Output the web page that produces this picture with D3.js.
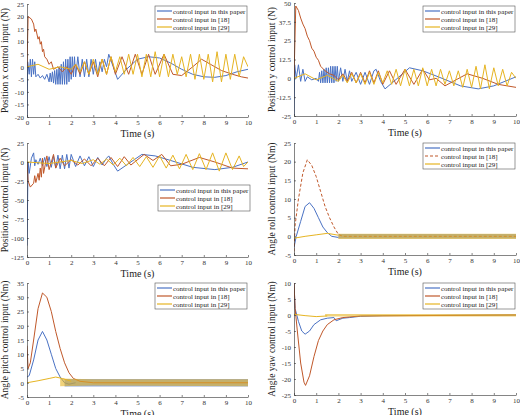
<!DOCTYPE html>
<html><head><meta charset="utf-8">
<script src="https://cdn.jsdelivr.net/npm/d3@7"></script>
<style>body{margin:0;background:#fff}</style>
</head><body><svg id="c" width="520" height="415" font-family="'Liberation Serif','DejaVu Serif',serif"></svg>
<script>
const FONT="'Liberation Serif','DejaVu Serif',serif";
const xTicks=[0,1,2,3,4,5,6,7,8,9,10];
const seriesNames=["control input in this paper","control input in [18]","control input in [29]"];
const colors=["#4a72c4","#c0582a","#e6b422"];
const yLabels=["Position x control input (N)","Position y control input (N)","Position z control input (N)","Angle roll control input (Nm)","Angle pitch control input (Nm)","Angle yaw control input (Nm)"];
const yTicks=[[-20,-15,-10,-5,0,5,10,15,20,25],[-25,-12.5,0,12.5,25,37.5,50],[-125,-100,-75,-50,-25,0,25],[-5,0,5,10,15,20,25],[-5,0,5,10,15,20,25,30,35],[-25,-20,-15,-10,-5,0,5,10]];

// panel 1: x
const p1Blue=[[0,-20],[0.03,2],[0.1,-3],[0.15,3],[0.2,-4],[0.25,3],[0.3,-3],[0.35,2],[0.4,-4],[0.5,-3],[0.6,-4.5],[0.7,-3.5],[0.8,-5],[0.9,-3],[1.0,-6],[1.05,-2.5],[1.1,-6],[1.15,-2],[1.2,-6.5],[1.25,-1.5],[1.3,-7],[1.35,-1],[1.4,-7],[1.45,0],[1.5,-7],[1.55,1],[1.6,-7],[1.65,2],[1.7,-7],[1.75,3],[1.8,-7],[1.85,3],[1.9,-6],[1.95,4],[2.0,-5],[2.05,4],[2.1,-4],[2.15,4],[2.2,-4],[2.3,4],[2.4,-4],[2.5,3],[2.6,-4],[2.7,3],[2.8,-4],[2.9,3],[3.0,-3],[3.1,3],[3.2,-3],[3.3,2],[3.4,-2],[3.5,3],[3.6,0],[3.7,5],[3.9,0],[4.1,-5],[4.5,-1],[5,3],[5.5,4],[6,3.5],[6.5,1.5],[7,-1],[7.5,-3],[8,-4],[8.5,-4.2],[9,-3.5],[9.5,-2],[10,-1]];
const p1Orange=[[0,0],[0.05,20],[0.2,19],[0.3,17],[0.35,14],[0.4,15],[0.5,11],[0.55,12],[0.6,9],[0.65,10],[0.7,6],[0.75,7],[0.8,4],[0.9,3],[1,1],[1.1,2],[1.2,-1],[1.4,0],[1.6,-2],[1.8,0],[2,-3],[2.2,1],[2.4,-3],[2.6,2],[2.8,-3],[3,2],[3.2,-4],[3.4,3],[3.6,-3],[3.8,4],[4,-3],[4.3,4],[4.6,-3],[4.9,5],[5.2,-3],[5.5,5],[5.8,-3],[6.2,5],[6.6,-3],[7,-3.5],[7.5,0],[7.9,3],[8.3,1],[8.8,-1.5],[9.3,-3],[9.7,-4],[10,-4.5]];
const p1Yellow=[[0,0],[0.5,1],[1,-1],[1.5,0],[2,-1],[2.2,1],[2.4,-2],[2.6,2],[2.8,-3],[3,3],[3.2,-3],[3.4,3],[3.6,-3],[3.8,4],[4,-2],[4.2,4],[4.4,-3],[4.6,5],[4.8,-3],[5,5],[5.2,-4],[5.4,5],[5.6,-4],[5.8,6],[6,-4],[6.2,5],[6.4,-4],[6.6,5],[6.8,-3],[7,4],[7.2,-4],[7.4,5],[7.6,-5],[7.8,5],[8,-5],[8.2,5],[8.4,-6],[8.6,6],[8.8,-6],[9,5],[9.2,-5],[9.4,5],[9.6,-4],[9.8,4],[10,0]];
// panel 2: y
const p2Blue=[[0,-25],[0.03,9],[0.1,0],[0.2,9],[0.3,-2],[0.4,6],[0.5,-2],[0.6,1],[0.8,-1],[1,0],[1.1,-2],[1.15,4],[1.2,-3],[1.25,5],[1.3,-3],[1.35,6],[1.4,-3],[1.45,7],[1.5,-3],[1.55,7],[1.6,-3],[1.65,8],[1.7,-3],[1.75,8],[1.8,-3],[1.85,8],[1.9,-2],[1.95,8],[2,-2],[2.1,7],[2.2,-2],[2.3,6],[2.4,-2],[2.5,5],[2.6,-2],[2.8,4],[3,-4],[3.2,4],[3.4,-4],[3.6,5],[3.7,6],[3.9,-2],[4.1,-7],[4.5,-2],[5.2,7],[5.8,5],[6.5,1],[7.5,-5],[8.3,-7],[9,-5],[10,1]];
const p2Orange=[[0,0],[0.08,48],[0.2,45],[0.3,40],[0.4,36],[0.5,33],[0.6,28],[0.7,25],[0.8,20],[0.9,18],[1,14],[1.1,12],[1.2,8],[1.4,5],[1.6,3],[1.8,2],[2,-1],[2.2,3],[2.4,-2],[2.6,4],[2.8,-3],[3,4],[3.2,-3],[3.4,5],[3.6,-3],[3.8,5],[4,-4],[4.3,5],[4.6,-4],[5,6],[5.4,-4],[5.8,6],[6.1,-1],[6.4,0],[6.8,-5],[7.3,-1],[7.8,3],[8.5,0],[9.2,-4],[10,-6]];
const p2Yellow=[[0,0],[0.5,3],[1,-1],[1.5,2],[2,-2],[2.2,2],[2.4,-3],[2.6,3],[2.8,-3],[3,3],[3.2,-4],[3.4,4],[3.6,-4],[3.8,4],[4,-3],[4.2,5],[4.4,-4],[4.6,6],[4.8,-5],[5,6],[5.2,-5],[5.4,6],[5.6,-5],[5.8,7],[6,-5],[6.2,6],[6.4,-5],[6.6,6],[6.8,-4],[7,5],[7.2,-5],[7.4,5],[7.6,-6],[7.8,6],[8,-6],[8.2,8],[8.4,-7],[8.6,9],[8.8,-7],[9,7],[9.2,-5],[9.4,6],[9.6,-5],[9.8,4],[10,0]];
// panel 3: z
const p3Blue=[[0,-110],[0.05,0],[0.1,-15],[0.2,5],[0.3,12],[0.35,-5],[0.4,3],[0.5,-3],[0.6,5],[0.7,-5],[0.8,6],[0.9,-6],[1,7],[1.1,-7],[1.2,8],[1.3,-8],[1.4,9],[1.5,-9],[1.6,9],[1.7,-9],[1.8,10],[1.9,-8],[2,10],[2.2,-6],[2.4,8],[2.6,-5],[2.8,7],[3,-6],[3.2,6],[3.4,-4],[3.6,5],[3.7,8],[3.9,-3],[4.1,-12],[4.5,-4],[5.2,10],[5.8,8],[6.5,2],[7.5,-7],[8.5,-10],[9.3,-7],[10,0]];
const p3Orange=[[0,0],[0.05,-25],[0.15,-33],[0.3,-28],[0.35,-18],[0.4,-27],[0.5,-15],[0.55,-24],[0.6,-8],[0.65,-20],[0.7,5],[0.75,-15],[0.9,8],[1,-10],[1.2,10],[1.3,-8],[1.5,5],[1.7,-5],[2,3],[2.3,-4],[2.6,4],[2.9,-5],[3.2,5],[3.5,-5],[3.8,6],[4.1,-6],[4.4,7],[4.7,-4],[5.3,10],[5.7,2],[6.1,10],[6.5,-5],[7,-3],[7.8,6],[8.5,0],[9.3,-8],[10,-9]];
const p3Yellow=[[0,0],[1,-2],[2,2],[2.5,-2],[3,3],[3.3,-3],[3.6,4],[3.9,-4],[4.2,5],[4.5,-5],[4.8,6],[5.1,-6],[5.4,7],[5.7,-7],[6,8],[6.3,-8],[6.6,9],[6.9,-9],[7.2,10],[7.5,-10],[7.8,11],[8.1,-10],[8.4,12],[8.7,-12],[9,12],[9.3,-10],[9.6,8],[9.8,-6],[10,0]];
// panel 4: roll
const p4Blue=[[0,-3],[0.1,0],[0.3,4],[0.5,8],[0.7,9],[0.9,7.5],[1.1,5],[1.3,2.5],[1.5,1],[1.7,0],[2,-0.3]];
const p4Orange=[[0,-4],[0.05,3],[0.2,10],[0.4,17],[0.6,20.5],[0.8,19],[1,16],[1.2,12],[1.4,8],[1.6,5],[1.8,2.5],[2,0.5],[2.2,0],[3,0],[10,0]];
const p4Yellow=[[0,-0.5],[0.5,0],[1,0.4],[1.5,0.8],[1.8,0.5],[2,0.3]];
// panel 5: pitch
const p5Blue=[[0,2],[0.1,2.5],[0.3,8],[0.5,15],[0.7,18],[0.9,15],[1.1,10],[1.3,5],[1.5,2],[1.7,0],[1.9,-0.5],[2.2,0]];
const p5Orange=[[0,13],[0.05,5],[0.15,7],[0.3,15],[0.5,26],[0.7,31.5],[0.9,30],[1.1,25],[1.3,18],[1.5,12],[1.7,7],[1.9,3.5],[2.1,1.5],[2.4,0.5],[3,0],[10,0]];
const p5Yellow=[[0,0],[0.5,0.7],[1,1.5],[1.3,2],[1.6,1.5],[2,0.5]];
// panel 6: yaw
const p6Blue=[[0,10],[0.05,2],[0.2,-2],[0.35,-5],[0.5,-6],[0.7,-5],[0.9,-3],[1.2,-1.5],[1.5,-1],[1.8,-0.8],[1.9,-1.8],[2.2,-1],[2.5,-0.8],[3,-0.4],[4,-0.2],[10,0]];
const p6Orange=[[0,10],[0.05,2],[0.15,-5],[0.3,-15],[0.45,-21],[0.52,-22],[0.7,-19],[0.9,-13],[1.1,-8],[1.3,-5],[1.5,-3],[1.8,-1.5],[2.2,-0.8],[3,-0.3],[10,0]];
const p6Yellow=[[0,0.2],[0.5,-0.2],[1,-0.5],[1.5,-0.3]];
// dense oscillation bands [t, low, high]
const p4BlueBand=[[2,-0.6,0.6],[10,-0.6,0.6]];
const p4YellowBand=[[2,-0.7,0.7],[10,-0.7,0.7]];
const p5BlueBand=[[1.7,-1.3,1.3],[10,-1.3,1.3]];
const p5YellowBand=[[1.5,-1.2,1.5],[3,-1,1.2],[10,-1.2,1.2]];
const p6YellowBand=[[1.4,-0.5,0.3],[10,-0.5,0.3]];

const panels=[
 {x:27,w:221,y:4,h:113,dom:[-20,25],lines:[p1Blue,p1Orange,p1Yellow],bands:[],leg:[155,6]},
 {x:294,w:222,y:3,h:113,dom:[-25,50],lines:[p2Blue,p2Orange,p2Yellow],bands:[],leg:[423,6]},
 {x:27,w:221,y:143,h:114,dom:[-125,25],lines:[p3Blue,p3Orange,p3Yellow],bands:[],leg:[158,185]},
 {x:294,w:222,y:143,h:112,dom:[-5,25],lines:[p4Blue,p4Orange,p4Yellow],bands:[[p4BlueBand,0],[p4YellowBand,2]],leg:[423,143],dash:true},
 {x:27,w:221,y:283,h:114,dom:[-5,35],lines:[p5Blue,p5Orange,p5Yellow],bands:[[p5BlueBand,0],[p5YellowBand,2]],leg:[155,283]},
 {x:294,w:222,y:283,h:112,dom:[-25,10],lines:[p6Blue,p6Orange,p6Yellow],bands:[[p6YellowBand,2]],leg:[423,283]}
];
const svg=d3.select("#c");
panels.forEach((p,i)=>{
 const g=svg.append("g");
 const x=d3.scaleLinear().domain([0,10]).range([p.x,p.x+p.w]);
 const y=d3.scaleLinear().domain(p.dom).range([p.y+p.h,p.y]);
 const clipId="cl"+i;
 svg.append("clipPath").attr("id",clipId).append("rect").attr("x",p.x).attr("y",p.y).attr("width",p.w).attr("height",p.h);
 const plot=g.append("g").attr("clip-path",`url(#${clipId})`);
 const line=d3.line().x(d=>x(d[0])).y(d=>y(d[1]));
 const area=d3.area().x(d=>x(d[0])).y0(d=>y(d[1])).y1(d=>y(d[2]));
 [0,1,2].forEach(k=>{
  p.bands.filter(b=>b[1]===k).forEach(b=>plot.append("path").attr("d",area(b[0])).attr("fill",colors[k]).attr("opacity",0.6));
  plot.append("path").attr("d",line(p.lines[k])).attr("fill","none").attr("stroke",colors[k]).attr("stroke-width",1)
   .attr("stroke-dasharray",(p.dash&&k===1)?"3,2":null);
 });
 const ax=g.append("g").attr("transform",`translate(0,${p.y+p.h})`).call(d3.axisBottom(x).tickValues(xTicks).tickSizeInner(-2).tickSizeOuter(0).tickPadding(3));
 const ay=g.append("g").attr("transform",`translate(${p.x},0)`).call(d3.axisLeft(y).tickValues(yTicks[i]).tickFormat(d=>d).tickSizeInner(-2).tickSizeOuter(0).tickPadding(3));
 [ax,ay].forEach(a=>{a.attr("font-family",FONT);a.selectAll("text").attr("font-size",7).attr("fill","#333");a.selectAll("line,path").attr("stroke","#333").attr("stroke-width",0.6);});
 g.append("text").attr("x",p.x+p.w/2).attr("y",p.y+p.h+20).attr("text-anchor","middle").attr("font-family",FONT).attr("font-size",10).attr("fill","#222").text("Time (s)");
 g.append("text").attr("transform",`translate(${p.x-19},${p.y+p.h/2}) rotate(-90)`).attr("text-anchor","middle").attr("font-family",FONT).attr("font-size",9.5).attr("fill","#222").text(yLabels[i]);
 const L=g.append("g").attr("transform",`translate(${p.leg[0]},${p.leg[1]})`);
 L.append("rect").attr("width",92).attr("height",26).attr("fill","#fff").attr("stroke","#555").attr("stroke-width",0.6);
 seriesNames.forEach((n,k)=>{
  L.append("line").attr("x1",2).attr("x2",17).attr("y1",5+k*8).attr("y2",5+k*8).attr("stroke",colors[k]).attr("stroke-width",1.2).attr("stroke-dasharray",(p.dash&&k===1)?"3,2":null);
  L.append("text").attr("x",18).attr("y",7.5+k*8).attr("font-family",FONT).attr("font-size",7).attr("fill","#222").text(n);
 });
});
</script></body></html>
